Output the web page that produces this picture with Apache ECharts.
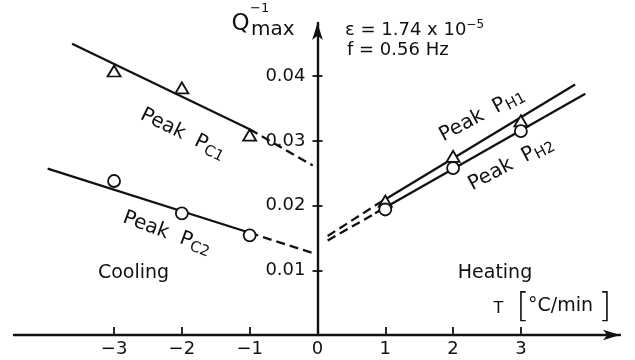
<!DOCTYPE html>
<html><head><meta charset="utf-8">
<script src="https://cdn.jsdelivr.net/npm/echarts@6/dist/echarts.min.js"></script>
<style>html,body{margin:0;padding:0;background:#fff}#c{width:635px;height:360px}</style>
</head><body><div id="c"></div>
<script>
// ---- data ----
const xTicks = [-3, -2, -1, 0, 1, 2, 3];
const yTicks = [0.01, 0.02, 0.03, 0.04];
const rateCooling = [-3, -2, -1];
const rateHeating = [1, 2, 3];
const qPC1 = [0.0408, 0.0382, 0.0309];
const qPC2 = [0.0238, 0.0188, 0.0154];
const qPH1 = [0.0207, 0.0276, 0.0331];
const qPH2 = [0.0194, 0.0258, 0.0315];
// fitted straight lines (end points [rate, Q])
const linePC1 = [[-3.62, 0.0450], [-1, 0.0318]];
const linePC1ext = [[-1, 0.0318], [-0.07, 0.0262]];
const linePC2 = [[-3.98, 0.0257], [-1, 0.0158]];
const linePC2ext = [[-1, 0.0158], [-0.08, 0.0127]];
const linePH1 = [[0.85, 0.0200], [3.8, 0.0387]];
const linePH1ext = [[0.15, 0.0153], [0.85, 0.0200]];
const linePH2 = [[0.85, 0.0188], [3.95, 0.0373]];
const linePH2ext = [[0.15, 0.0146], [0.85, 0.0188]];

const FONT = '"DejaVu Sans", sans-serif';
const INK = '#111';

function lineS(data, dashed) {
  return {type: 'line', data: data, symbol: 'none', showSymbol: false, silent: true, z: 2,
    xAxisIndex: 0, yAxisIndex: 0,
    lineStyle: {color: INK, width: 2.3, type: dashed ? [9, 5] : 'solid'}};
}
function pts(xs, ys) { return xs.map((x, i) => [x, ys[i]]); }
function scat(data, sym, size) {
  return {type: 'scatter', data: data, symbol: sym, symbolSize: size, z: 5, silent: true,
    xAxisIndex: 0, yAxisIndex: 0,
    itemStyle: {color: '#fff', borderColor: INK, borderWidth: 1.8, opacity: 1}};
}
function txt(x, y, text, size, rot, rich, extra) {
  return {type: 'text', x: x, y: y, rotation: (rot || 0) * Math.PI / 180, silent: true,
    style: Object.assign({text: text, fill: INK, fontFamily: 'DejaVu Sans', fontSize: size,
      align: 'center', verticalAlign: 'middle'}, rich ? {rich: rich} : {}, extra || {})};
}
const peakRich = {
  a: {fontSize: 20, lineHeight: 24, fill: INK, fontFamily: 'DejaVu Sans'},
  b: {fontSize: 15, lineHeight: 12, verticalAlign: 'bottom', fill: INK, fontFamily: 'DejaVu Sans'}
};

const chart = echarts.init(document.getElementById('c'), null, {renderer: 'canvas'});
const xMin = -4.476, xMax = 4.462, yMin = 0, yMax = 0.04822;
const GT = 23, GB = 25, GL = 14, GR = 15, Y0X = 317.5;
chart.setOption({
  animation: false,
  backgroundColor: '#fff',
  textStyle: {fontFamily: FONT},
  grid: [
    {left: GL, right: GR, top: GT, bottom: GB, containLabel: false, outerBoundsMode: 'none'},
    {left: Y0X, right: GR, top: GT, bottom: GB, containLabel: false, outerBoundsMode: 'none'}
  ],
  xAxis: [{
    type: 'value', gridIndex: 0, min: xMin, max: xMax,
    axisLine: {onZero: false, lineStyle: {color: INK, width: 2.4}, symbol: ['none', 'arrow'], symbolSize: [8, 17]},
    axisTick: {inside: true, length: 8, lineStyle: {color: INK, width: 1.8}, customValues: xTicks},
    axisLabel: {customValues: xTicks, color: INK, fontSize: 18, fontFamily: FONT, margin: 5,
      formatter: v => v < 0 ? '\u2212' + Math.abs(v) : String(v)},
    splitLine: {show: false}
  }, {
    type: 'value', gridIndex: 1, min: 0, max: 1, show: false
  }],
  yAxis: [{
    type: 'value', gridIndex: 0, min: yMin, max: yMax, show: false
  }, {
    type: 'value', gridIndex: 1, min: yMin, max: yMax, position: 'left',
    axisLine: {show: true, onZero: false, lineStyle: {color: INK, width: 2.4}, symbol: ['none', 'arrow'], symbolSize: [8, 17]},
    axisTick: {inside: false, length: 5, lineStyle: {color: INK, width: 1.8}, customValues: yTicks},
    axisLabel: {customValues: yTicks, color: INK, fontSize: 18, fontFamily: FONT, margin: 12,
      formatter: v => v.toFixed(2)},
    splitLine: {show: false}
  }, {
    type: 'value', gridIndex: 1, min: yMin, max: yMax, position: 'left',
    axisLine: {show: false, onZero: false},
    axisTick: {show: true, inside: true, length: 5, lineStyle: {color: INK, width: 1.8}, customValues: yTicks},
    axisLabel: {show: false},
    splitLine: {show: false}
  }],
  series: [
    lineS(linePC1, false), lineS(linePC1ext, true),
    lineS(linePC2, false), lineS(linePC2ext, true),
    lineS(linePH1, false), lineS(linePH1ext, true),
    lineS(linePH2, false), lineS(linePH2ext, true),
    scat(pts(rateCooling, qPC1), 'triangle', [13, 11]),
    scat(pts(rateCooling, qPC2), 'circle', 12),
    scat(pts(rateHeating, qPH1), 'triangle', [13, 11]),
    scat(pts(rateHeating, qPH2), 'circle', 12)
  ],
  graphic: [
    txt(240.5, 24, 'Q', 23),
    txt(250, 9, '\u22121', 13, 0, null, {align: 'left'}),
    txt(251, 30, 'max', 20, 0, null, {align: 'left'}),
    txt(345, 30, '{a|\u03b5 = 1.74 x 10}{s|\u22125}', 18, 0,
      {a: {fontSize: 18, lineHeight: 22, fill: INK, fontFamily: 'DejaVu Sans'},
       s: {fontSize: 12, lineHeight: 10, verticalAlign: 'top', fill: INK, fontFamily: 'DejaVu Sans'}}, {align: 'left'}),
    txt(347, 50, 'f = 0.56 Hz', 18, 0, null, {align: 'left'}),
    txt(183, 134, '{a|Peak  P}{b|C1}', 20, -26, peakRich),
    txt(167, 233, '{a|Peak  P}{b|C2}', 20, -20, peakRich),
    txt(482, 115, '{a|Peak  P}{b|H1}', 20, 28, peakRich),
    txt(511, 164, '{a|Peak  P}{b|H2}', 20, 28, peakRich),
    txt(133.5, 273, 'Cooling', 19),
    txt(495, 273, 'Heating', 19),
    txt(498.5, 309, 'T', 16),
    txt(523, 308, '[', 34, 0, null, {fontWeight: 'lighter'}),
    txt(528, 306, '\u00b0C/min', 19, 0, null, {align: 'left'}),
    txt(605, 308, ']', 34, 0, null, {fontWeight: 'lighter'})
  ]
});
</script></body></html>
